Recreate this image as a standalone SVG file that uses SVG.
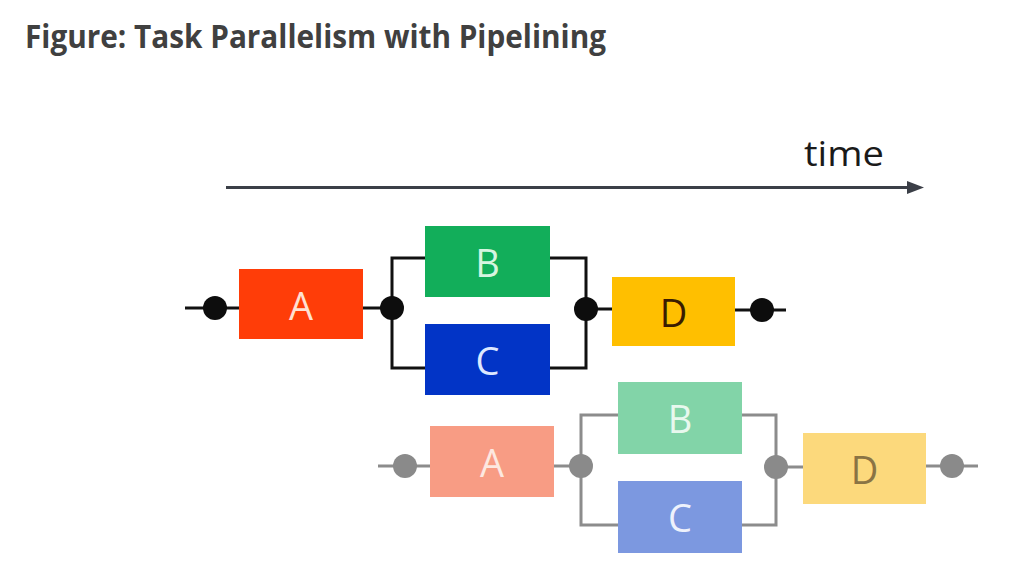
<svg xmlns="http://www.w3.org/2000/svg" width="1012" height="577" viewBox="0 0 1012 577">
<style>
.title{font-family:"Open Sans","Noto Sans","Liberation Sans",sans-serif;font-weight:700;font-size:33px;fill:#404040}
.time{font-family:"Open Sans","Noto Sans","Liberation Sans",sans-serif;font-size:35px;fill:#1a1a1a}
.lbl{font-family:"Open Sans","Noto Sans","Liberation Sans",sans-serif;font-size:38px;text-anchor:middle}
.wire1{stroke:#111111;stroke-width:3;fill:none}
.wire2{stroke:#8c8c8c;stroke-width:3;fill:none}
.dot1{fill:#0d0d0d}
.dot2{fill:#8a8a8a}
</style>
<rect width="1012" height="577" fill="#ffffff"/>
<text class="title" x="25" y="48" textLength="581" lengthAdjust="spacingAndGlyphs">Figure: Task Parallelism with Pipelining</text>
<g id="time-axis">
<text class="time" x="804" y="166" textLength="80" lengthAdjust="spacingAndGlyphs">time</text>
<line x1="226" y1="187.5" x2="912" y2="187.5" stroke="#3b3f47" stroke-width="3"/>
<polygon points="907,181 924,187.5 907,194" fill="#3b3f47"/>
</g>
<g id="connectors">
<path class="wire1" d="M185 308 H239 M363 308 H392 M425 258 H392 V368 H425 M550 258 H586 V368 H550 M586 309 H612 M735 310 H786"/>
<path class="wire2" d="M378 466 H430 M554 466 H581 M618 415 H581 V525 H618 M742 415 H776 V525 H742 M776 467 H803 M926 466 H978"/>
<circle class="dot1" cx="215" cy="308" r="12"/>
<circle class="dot1" cx="392" cy="308" r="12"/>
<circle class="dot1" cx="586" cy="309" r="12"/>
<circle class="dot1" cx="762" cy="310" r="12"/>
<circle class="dot2" cx="405" cy="466" r="12"/>
<circle class="dot2" cx="581" cy="466" r="12"/>
<circle class="dot2" cx="776" cy="467" r="12"/>
<circle class="dot2" cx="952" cy="466" r="12"/>
</g>
<g id="A1"><rect x="239" y="269" width="124" height="70" fill="#ff3d08"/><text class="lbl" x="301" y="320" fill="#ffe0d2">A</text></g>
<g id="B1"><rect x="425" y="226" width="125" height="71" fill="#12ae5a"/><text class="lbl" x="487.5" y="277" fill="#d6f5e0">B</text></g>
<g id="C1"><rect x="425" y="324" width="125" height="71" fill="#0234c6"/><text class="lbl" x="487.5" y="375" fill="#dde8ff">C</text></g>
<g id="D1"><rect x="612" y="277" width="123" height="69" fill="#ffbf00"/><text class="lbl" x="673.5" y="327" fill="#3a1c00">D</text></g>
<g id="A2"><rect x="430" y="426" width="124" height="71" fill="#f89c84"/><text class="lbl" x="492" y="477" fill="#fde8e0">A</text></g>
<g id="B2"><rect x="618" y="382" width="124" height="72" fill="#82d4a8"/><text class="lbl" x="680" y="433" fill="#e8f8ee">B</text></g>
<g id="C2"><rect x="618" y="481" width="124" height="72" fill="#7c98e0"/><text class="lbl" x="680" y="532" fill="#eef2fc">C</text></g>
<g id="D2"><rect x="803" y="433" width="123" height="71" fill="#fcd97c"/><text class="lbl" x="864.5" y="484" fill="#8a7444">D</text></g>
</svg>
